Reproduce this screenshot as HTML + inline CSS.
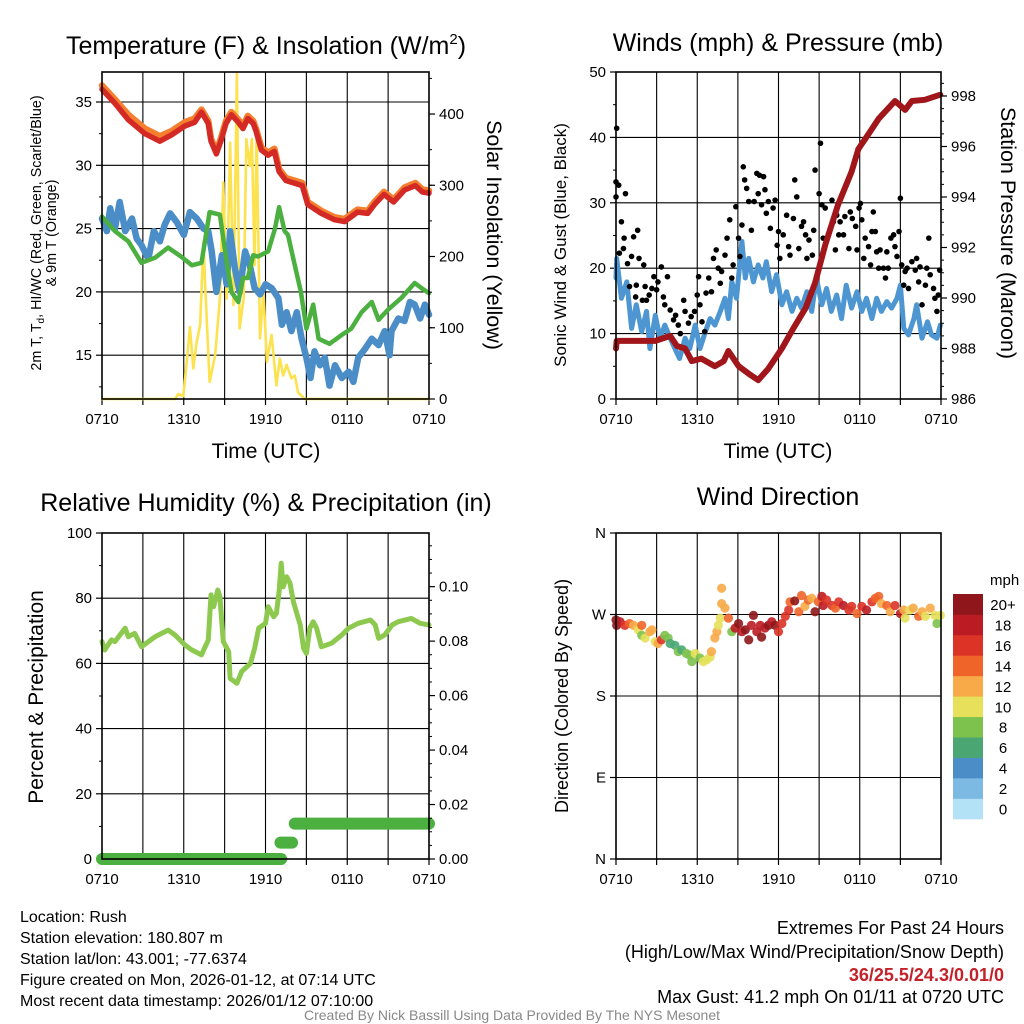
<!DOCTYPE html>
<html><head><meta charset="utf-8">
<style>
html,body{margin:0;padding:0;background:#fff;}
svg{display:block;font-family:"Liberation Sans",sans-serif;}
</style></head>
<body>
<svg id="chart" width="1024" height="1024" viewBox="0 0 1024 1024" xmlns="http://www.w3.org/2000/svg">
  <g id="layer"></g>
  <text x="266" y="54" font-size="25" text-anchor="middle">Temperature (F) &amp; Insolation (W/m<tspan font-size="15" dy="-10">2</tspan><tspan dy="10">)</tspan></text>
  <text x="778" y="51" font-size="25" text-anchor="middle">Winds (mph) &amp; Pressure (mb)</text>
  <text x="266" y="511" font-size="25" text-anchor="middle">Relative Humidity (%) &amp; Precipitation (in)</text>
  <text x="778" y="505" font-size="25" text-anchor="middle">Wind Direction</text>
  <text x="266" y="458" font-size="21" text-anchor="middle">Time (UTC)</text>
  <text x="778" y="458" font-size="21" text-anchor="middle">Time (UTC)</text>
  <text transform="translate(41,233) rotate(-90)" font-size="14.3" text-anchor="middle">2m T, T<tspan font-size="10" dy="3">d</tspan><tspan dy="-3">, HI/WC (Red, Green, Scarlet/Blue)</tspan></text>
  <text transform="translate(56,233) rotate(-90)" font-size="14.3" text-anchor="middle">&amp; 9m T (Orange)</text>
  <text transform="translate(487,235) rotate(90)" font-size="21.5" text-anchor="middle">Solar Insolation (Yellow)</text>
  <text transform="translate(566,245) rotate(-90)" font-size="17" text-anchor="middle">Sonic Wind &amp; Gust (Blue, Black)</text>
  <text transform="translate(1001,233) rotate(90)" font-size="21.5" text-anchor="middle">Station Pressure (Maroon)</text>
  <text transform="translate(43,697) rotate(-90)" font-size="21" text-anchor="middle">Percent &amp; Precipitation</text>
  <text transform="translate(568,696) rotate(-90)" font-size="18" text-anchor="middle">Direction (Colored By Speed)</text>
  <text x="990" y="585" font-size="15" text-anchor="start">mph</text>
  <g font-size="16">
    <text x="20" y="922">Location: Rush</text>
    <text x="20" y="943">Station elevation: 180.807 m</text>
    <text x="20" y="964">Station lat/lon: 43.001; -77.6374</text>
    <text x="20" y="985">Figure created on Mon, 2026-01-12, at 07:14 UTC</text>
    <text x="20" y="1006">Most recent data timestamp: 2026/01/12 07:10:00</text>
  </g>
  <g font-size="18" text-anchor="end">
    <text x="1004" y="934">Extremes For Past 24 Hours</text>
    <text x="1004" y="958">(High/Low/Max Wind/Precipitation/Snow Depth)</text>
    <text x="1004" y="981" fill="#c3222a" font-weight="bold">36/25.5/24.3/0.01/0</text>
    <text x="1004" y="1003">Max Gust: 41.2 mph On 01/11 at 0720 UTC</text>
  </g>
  <text x="512" y="1020" font-size="14" fill="#888" text-anchor="middle">Created By Nick Bassill Using Data Provided By The NYS Mesonet</text>
</svg>
<script>
// ---------- DATA ----------
const xTickLabels = ["0710","1310","1910","0110","0710"];
// Panel 1: temperature (hour, value)
const tempHours = [0,0.95,1.93,3.15,4.24,5.1,6.07,6.8,7.3,7.8,8.0,8.4,8.75,9.1,9.5,10.0,10.35,10.7,11.1,11.3,11.7,12.2,12.65,13.0,13.5,14.7,15.1,16.1,17.05,17.8,18.75,19.5,20.0,20.7,21.4,22.2,23.0,23.5,24];
const tempRed = [36.0,34.9,33.6,32.5,31.9,32.4,33.1,33.4,34.2,33.3,31.9,30.9,32.0,33.3,34.0,33.4,32.9,33.7,33.3,32.7,31.2,30.8,31.1,29.5,28.8,28.4,26.9,26.2,25.7,25.55,26.3,26.2,26.9,27.7,27.1,28.05,28.4,27.9,27.8];
const tempOrange = [36.3,35.2,34.0,32.9,32.3,32.7,33.4,33.7,34.4,33.5,32.1,31.1,32.2,33.5,34.2,33.6,33.1,33.9,33.5,32.9,31.4,31.0,31.3,29.7,29.0,28.6,27.1,26.4,25.9,25.75,26.5,26.4,27.1,27.9,27.3,28.25,28.6,28.1,28.0];
const dewHours = [0,0.95,1.93,2.9,3.9,4.85,5.8,6.6,7.3,7.9,8.65,9.1,9.5,10.0,10.35,10.7,11.1,11.45,12.2,12.7,13.0,13.4,13.65,14.15,14.6,15.0,15.5,15.9,16.7,17.6,18.3,19.05,19.8,20.3,21.0,21.95,22.95,23.45,24];
const dewValues = [25.95,24.8,24.0,22.3,22.7,23.5,22.8,22.1,22.3,26.3,26.1,22.7,20.0,19.2,21.1,21.1,22.9,22.8,23.2,25.0,26.7,24.8,24.5,22.1,20.0,17.1,19.0,16.3,15.9,16.6,17.1,18.4,19.2,17.8,18.6,19.5,20.7,20.3,19.9];
const chillHours = [0,0.35,0.6,0.95,1.3,1.7,2.2,2.55,2.9,3.4,3.8,4.25,4.6,5.0,5.5,6.0,6.45,6.95,7.45,7.8,8.05,8.4,8.8,9.15,9.4,9.75,10.1,10.5,10.85,11.2,11.6,12.0,12.45,12.95,13.2,13.55,13.9,14.3,14.65,15.0,15.3,15.6,16.0,16.35,16.7,17.1,17.6,18.1,18.45,18.8,19.3,19.8,20.3,20.75,21.1,21.25,21.75,22.2,22.6,22.95,23.35,23.7,24];
const chillValues = [25.8,24.8,26.6,25.0,27.1,24.8,25.8,24.2,23.7,22.6,24.8,24.0,25.3,26.2,25.5,24.5,26.3,25.8,25.0,24.8,23.2,20.0,22.9,20.6,24.8,21.9,20.0,23.2,22.1,20.3,19.8,20.6,20.3,19.5,17.4,18.4,16.9,18.4,16.3,14.8,13.2,15.3,14.2,14.8,12.6,14.2,13.2,13.7,12.9,14.8,15.5,16.3,15.8,16.9,15.0,16.9,17.9,17.7,19.2,19.0,17.9,19.0,18.2];
const solarHours = [0,5.36,5.6,5.97,6.2,6.45,6.7,6.95,7.2,7.45,7.55,7.9,8.3,8.65,8.9,9.15,9.4,9.65,9.9,10.1,10.4,10.6,10.85,11.0,11.2,11.35,11.6,11.85,12.1,12.45,12.8,13.05,13.3,13.55,13.9,14.15,14.4,14.9,24];
const solarValues = [0,0,7,4,48,101,43,80,104,221,169,24,61,141,304,141,360,132,458,99,141,365,327,365,188,374,85,150,52,90,19,57,33,48,29,33,9,0,0];
// Panel 2: winds & pressure
const presHours = [0,0.05,1.65,2.9,4.0,4.5,5.1,5.6,6.3,7.3,7.95,8.3,9.05,9.8,10.5,11.25,12.25,13.1,14.0,14.7,15.45,16.4,17.4,17.9,18.65,19.4,20.6,21.35,21.85,22.8,23.95];
const presValues = [988.0,988.3,988.3,988.3,988.5,988.1,988.0,987.5,987.6,987.3,987.5,987.9,987.3,987.0,986.75,987.2,988.0,988.8,989.6,990.6,992.1,993.7,995.0,995.9,996.5,997.1,997.8,997.45,997.8,997.85,998.05];
const windHours = [0,0.05,0.4,0.8,1.15,1.5,1.9,2.25,2.5,2.9,3.25,3.6,4.0,4.35,4.7,5.1,5.45,5.85,6.2,6.6,6.95,7.3,7.7,8.05,8.3,8.55,8.9,9.3,9.55,9.8,10.15,10.5,10.85,11.1,11.5,11.85,12.25,12.6,13.0,13.35,13.7,14.1,14.45,14.8,15.2,15.55,15.9,16.3,16.65,17.0,17.4,17.8,18.15,18.5,18.9,19.25,19.6,20.0,20.35,20.75,21.0,21.25,21.6,22.0,22.2,22.6,23.0,23.3,23.7,23.95];
const windValues = [18.5,21.5,15.4,17.9,10.8,14.4,10.3,13.4,7.7,12.8,9.3,11.3,9.3,7.7,6.2,9.3,7.7,11.3,7.7,10.3,12.3,11.3,13.4,15.4,12.3,17.9,15.4,24.1,18.5,21.5,17.9,20.5,18.5,21.0,16.4,19.0,14.4,16.4,13.4,15.4,13.9,16.4,13.4,18.5,14.4,16.9,13.4,15.9,12.3,17.4,13.9,16.4,13.4,15.4,12.3,15.4,13.4,14.9,13.9,15.4,17.4,10.8,9.8,12.3,14.4,9.3,11.8,9.8,9.3,11.3];
const gustHours = [0,0.05,0,0.2,0.7,0.4,0.25,0.55,0.6,0.85,1.0,1.15,1.3,1.6,1.5,1.45,1.7,2.05,2.15,1.95,2.25,2.45,2.65,2.8,3.0,3.1,3.35,3.5,3.6,3.8,4.0,4.25,4.4,4.6,4.75,5.0,5.1,5.35,5.55,5.8,6.0,6.1,6.2,6.35,6.55,6.65,6.85,7.05,7.2,7.4,7.55,7.7,7.8,8.05,8.2,8.4,8.55,8.65,8.85,9.05,9.3,9.15,9.4,9.5,9.65,9.8,10.0,10.2,10.4,10.5,10.6,10.75,10.9,11.0,11.1,11.25,11.4,11.6,11.75,11.9,12.0,12.1,12.35,12.6,12.75,12.85,13.1,13.2,13.35,13.5,13.7,13.85,14.0,14.1,14.25,14.5,14.6,14.7,15.0,15.1,15.2,15.3,15.45,15.7,15.95,16.05,16.2,16.3,16.45,16.55,16.8,16.9,17.2,17.3,17.45,17.7,17.8,17.95,18.05,18.15,18.3,18.4,18.65,18.8,18.9,19.0,19.15,19.25,19.4,19.5,19.75,19.9,20.0,20.1,20.3,20.5,20.6,20.75,21.0,20.9,21.1,21.25,21.35,21.5,21.6,21.85,22.1,22.2,22.35,22.45,22.6,22.85,22.95,23.1,23.2,23.45,23.55,23.7,23.8,23.9];
const gustValues = [30.9,41.4,33.2,32.7,31.4,27.1,22.3,23.0,24.6,20.7,17.2,21.8,24.8,25.8,17.4,15.6,21.5,20.5,17.2,15.1,15.1,15.9,16.9,18.7,16.7,17.9,20.2,15.6,14.4,18.7,13.6,12.1,12.8,11.3,10.0,15.1,13.4,11.6,12.6,13.4,15.9,18.7,14.4,11.8,10.3,16.2,18.5,16.4,21.5,22.8,20.0,17.7,19.5,22.0,24.6,27.4,18.5,20.5,29.4,24.6,26.6,21.8,35.5,33.5,32.2,30.2,25.8,30.2,34.5,31.4,34.2,29.7,34.0,32.0,28.4,30.2,26.1,29.2,30.4,23.5,25.6,21.5,25.1,28.1,23.3,22.0,27.6,33.5,30.9,23.0,26.4,27.1,25.1,21.5,24.3,22.0,25.8,35.0,31.4,39.1,29.7,24.6,29.2,25.3,30.4,27.1,22.8,28.1,25.1,27.1,25.1,27.9,23.0,28.6,27.6,26.4,22.8,29.2,29.9,27.4,21.5,24.6,23.3,20.5,25.6,28.6,25.6,22.5,20.0,22.8,20.0,18.5,22.5,20.0,24.6,25.1,23.3,21.8,30.7,25.6,20.5,17.4,19.5,20.0,16.9,21.0,19.7,21.5,17.9,20.2,14.4,17.4,20.0,24.6,19.0,16.9,15.4,13.4,15.9,19.7];
// Panel 3: RH & precip
const rhHours = [0,0.2,0.7,0.95,1.7,1.93,2.4,2.9,3.9,4.85,5.36,6.1,6.6,7.3,7.8,8.0,8.2,8.5,8.65,8.9,9.3,9.4,9.9,10.25,10.9,11.2,11.5,12.0,12.2,12.6,12.8,13.0,13.15,13.3,13.55,13.8,14.05,14.55,14.8,15.0,15.25,15.5,15.75,16.1,16.85,17.6,18.1,18.8,19.7,20.05,20.3,20.75,21.3,21.75,22.7,23.35,24.0];
const rhValues = [66.7,64.1,67.2,66.7,70.8,68.2,69.2,65.1,68.2,70.2,68.7,65.6,64.1,62.6,67.2,81.0,77.4,82.5,80.5,66.7,63.6,55.4,53.9,57.5,60.0,64.6,70.8,72.3,77.4,74.3,75.4,82.0,90.7,83.5,86.6,84.6,78.9,71.8,64.6,63.1,70.8,72.8,70.8,65.1,66.2,68.7,70.8,72.3,73.3,71.8,67.7,68.7,71.8,72.8,73.8,72.3,71.8];
const precipStart = [0,13.1,14.15];
const precipEnd = [13.15,13.95,24];
const precipValues = [0.0,0.006,0.013];
// Panel 4: wind direction
const dirHours = [0,0.05,0.3,0.65,1.0,1.3,1.65,1.9,2.15,2.5,2.65,1.9,2.9,3.1,3.35,3.6,3.85,4.0,4.35,4.6,4.85,5.2,5.45,5.6,5.85,6.2,6.45,6.7,6.95,7.05,7.3,7.45,7.55,7.7,7.8,8.05,7.8,8.3,8.55,8.8,9.05,9.3,9.55,9.8,10.0,10.15,10.4,10.65,10.75,11.0,11.25,11.5,11.75,12.0,12.25,12.5,12.75,12.85,13.2,13.5,13.7,13.95,14.2,14.45,14.7,14.95,15.2,15.3,15.55,15.95,16.2,16.45,16.8,17.2,17.4,17.8,18.15,18.5,18.9,19.15,19.4,19.6,20.0,20.25,20.6,21.0,21.25,21.35,21.7,21.95,22.35,22.6,22.85,23.2,23.55,23.7,23.95];
const dirValues = [264,258,262,258,260,258,253,247,244,251,253,258,240,238,242,247,244,238,236,229,231,227,225,218,227,222,218,220,223,229,244,251,258,266,282,277,299,266,251,255,260,251,253,242,258,269,251,258,245,255,258,262,258,251,260,268,275,284,285,273,291,279,286,288,273,284,290,280,286,280,277,284,280,275,279,271,279,275,284,288,290,282,280,273,280,271,275,266,275,277,268,273,268,277,269,260,269];
const dirSpeeds = [20,20,18,16,14,12,10,8,10,12,12,14,10,12,16,8,8,6,6,8,6,8,8,8,10,8,10,10,10,12,12,12,10,10,12,12,12,14,8,18,20,18,20,20,18,20,18,18,20,18,20,18,20,16,16,16,16,14,20,14,14,12,14,12,20,14,18,18,16,16,14,16,18,16,16,14,16,18,16,14,14,12,14,12,16,18,12,10,10,12,14,12,10,12,10,8,10];
const colorLevels = ["0","2","4","6","8","10","12","14","16","18","20+"];
const colorSwatches = ["#b3e1f5","#7cb9e3","#4a8dc7","#4aa774","#7dc24d","#e6e05a","#f7aa47","#ef6429","#dc3327","#bb1c24","#8f161a"];

// ---------- DRAWING ----------
const NS = "http://www.w3.org/2000/svg";
const layer = document.getElementById("layer");
function mk(tag, attrs, parent) {
  const e = document.createElementNS(NS, tag);
  for (const k in attrs) e.setAttribute(k, attrs[k]);
  (parent || layer).appendChild(e);
  return e;
}
function lin(d0, d1, r0, r1) { return v => r0 + (v - d0) * (r1 - r0) / (d1 - d0); }

function panel(p) {
  const g = mk("g", {});
  
  
  p.g = g;
  p.x = lin(0, 24, p.L, p.R);
  p.y = lin(p.y0, p.y1, p.B, p.T);
  return p;
}
function frame(p, hgrid, leftTicks, leftFmt, leftMinor) {
  const g = p.g;
  for (let h = 3; h < 24; h += 3) {
    const l = mk("line", {x1: p.x(h), x2: p.x(h), y1: p.T, y2: p.B, stroke: "#000", "stroke-width": 1.1}, g);
    
    
  }
  hgrid.forEach(v => {
    const l = mk("line", {x1: p.L, x2: p.R, y1: p.y(v), y2: p.y(v), stroke: "#000", "stroke-width": 1.1}, g);
    
    
  });
  for (let h = 0; h <= 24; h += 3) {
    mk("line", {x1: p.x(h), x2: p.x(h), y1: p.B, y2: p.B + 6, stroke: "#000", "stroke-width": 1.2}, g);
  }
  xTickLabels.forEach((t, i) => {
    const e = mk("text", {x: p.x(i * 6), y: p.B + 25, "font-size": 15, "text-anchor": "middle"}, g);
    e.textContent = t;
    
    
  });
  leftTicks.forEach(v => {
    mk("line", {x1: p.L - 6, x2: p.L, y1: p.y(v), y2: p.y(v), stroke: "#000", "stroke-width": 1.2}, g);
    const e = mk("text", {x: p.L - 10, y: p.y(v) + 5, "font-size": 15, "text-anchor": "end"}, g);
    e.textContent = leftFmt(v);
    
    
  });
  (leftMinor || []).forEach(v => {
    mk("line", {x1: p.L - 3, x2: p.L, y1: p.y(v), y2: p.y(v), stroke: "#000", "stroke-width": 1}, g);
  });
}
function border(p) {
  const r = mk("rect", {x: p.L, y: p.T, width: p.R - p.L, height: p.B - p.T, fill: "none", stroke: "#000", "stroke-width": 1.6}, p.g);
  
  
}
function rightAxis(p, ys, ticks, minor, fmt) {
  ticks.forEach(v => {
    mk("line", {x1: p.R, x2: p.R + 6, y1: ys(v), y2: ys(v), stroke: "#000", "stroke-width": 1.2}, p.g);
    const e = mk("text", {x: p.R + 10, y: ys(v) + 5, "font-size": 15}, p.g);
    e.textContent = fmt(v);
    
    
  });
  minor.forEach(v => {
    mk("line", {x1: p.R, x2: p.R + 3, y1: ys(v), y2: ys(v), stroke: "#000", "stroke-width": 1}, p.g);
  });
}
function path(p, xs, vs, ys, color, w, name, op) {
  let d = "";
  xs.forEach((h, i) => { d += (i ? "L" : "M") + p.x(h).toFixed(1) + "," + ys(vs[i]).toFixed(1); });
  const e = mk("path", {d: d, fill: "none", stroke: color, "stroke-width": w, "stroke-linejoin": "round", "stroke-linecap": "round", opacity: op || 1}, p.g);
  
  
  return e;
}
function range(a, b, s) { const r = []; for (let v = a; v <= b + 1e-9; v += s) r.push(+v.toFixed(4)); return r; }

// Panel 1
const p1 = panel({name: "temperature-panel", L: 102, R: 429, T: 72, B: 399, y0: 11.54, y1: 37.37});
frame(p1, [15, 20, 25, 30, 35], [15, 20, 25, 30, 35], v => v, [12.5, 17.5, 22.5, 27.5, 32.5]);
const ySolar = lin(0, 459, 399, 72);
path(p1, solarHours, solarValues, ySolar, "#fde24f", 2.6, "solar-insolation-line");
path(p1, chillHours, chillValues, p1.y, "#4a8dc7", 6.5, "wind-chill-line");
path(p1, dewHours, dewValues, p1.y, "#4cb041", 4.5, "dewpoint-line");
path(p1, tempHours, tempOrange, p1.y, "#f47f2f", 6.5, "9m-temperature-line");
path(p1, tempHours, tempRed, p1.y, "#d42a26", 5.5, "2m-temperature-line");
rightAxis(p1, ySolar, [0, 100, 200, 300, 400], range(50, 450, 50), v => v);
border(p1);

// Panel 2
const p2 = panel({name: "wind-pressure-panel", L: 616, R: 941, T: 72, B: 399, y0: 0, y1: 50});
frame(p2, [10, 20, 30, 40], [0, 10, 20, 30, 40, 50], v => v, [5, 15, 25, 35, 45]);
const yPres = lin(986, 998.95, 399, 72);
path(p2, windHours, windValues, p2.y, "#4d96d1", 5, "sonic-wind-line");
gustHours.forEach((h, i) => {
  const c = mk("circle", {cx: p2.x(h), cy: p2.y(gustValues[i]), r: 2.8, fill: "#000"}, p2.g);
  
  
});
path(p2, presHours, presValues, yPres, "#a0161b", 6, "pressure-line");
rightAxis(p2, yPres, [986, 988, 990, 992, 994, 996, 998], range(986.5, 998.5, 0.5).filter(v => v % 2 !== 0), v => v);
border(p2);

// Panel 3
const p3 = panel({name: "humidity-precip-panel", L: 102, R: 429, T: 533, B: 859, y0: 0, y1: 100});
frame(p3, [20, 40, 60, 80], [0, 20, 40, 60, 80, 100], v => v, [10, 30, 50, 70, 90]);
const yPrecip = lin(0, 0.1197, 859, 533);
path(p3, rhHours, rhValues, p3.y, "#8dc94e", 5, "relative-humidity-line");
precipValues.forEach((v, i) => {
  const l = mk("line", {x1: p3.x(precipStart[i]), x2: p3.x(precipEnd[i]), y1: yPrecip(v), y2: yPrecip(v), stroke: "#4cb041", "stroke-width": 12, "stroke-linecap": "round"}, p3.g);
  
  
});
rightAxis(p3, yPrecip, [0, 0.02, 0.04, 0.06, 0.08, 0.10], range(0.005, 0.115, 0.005).filter(v => Math.abs((v * 100) % 2) > 0.01), v => v.toFixed(2));
border(p3);

// Panel 4
const p4 = panel({name: "wind-direction-panel", L: 616, R: 941, T: 533, B: 859, y0: 0, y1: 360});
frame(p4, [90, 180, 270], [0, 90, 180, 270, 360], v => ({0: "N", 90: "E", 180: "S", 270: "W", 360: "N"})[v], []);
dirHours.forEach((h, i) => {
  const idx = Math.min(10, Math.max(0, Math.round(dirSpeeds[i] / 2)));
  const c = mk("circle", {cx: p4.x(h), cy: p4.y(dirValues[i]), r: 4.6, fill: colorSwatches[idx], opacity: 0.9}, p4.g);
  
  
});
border(p4);

// Colorbar
const cb = mk("g", {});


colorSwatches.forEach((c, i) => {
  const top = 594 + (10 - i) * 20.45;
  const r = mk("rect", {x: 953, y: top, width: 30, height: 20.8, fill: c}, cb);
  
  
  const t = mk("text", {x: 1003, y: top + 16, "font-size": 15, "text-anchor": "middle"}, cb);
  t.textContent = colorLevels[i];
  
  
});
</script>
</body></html>
